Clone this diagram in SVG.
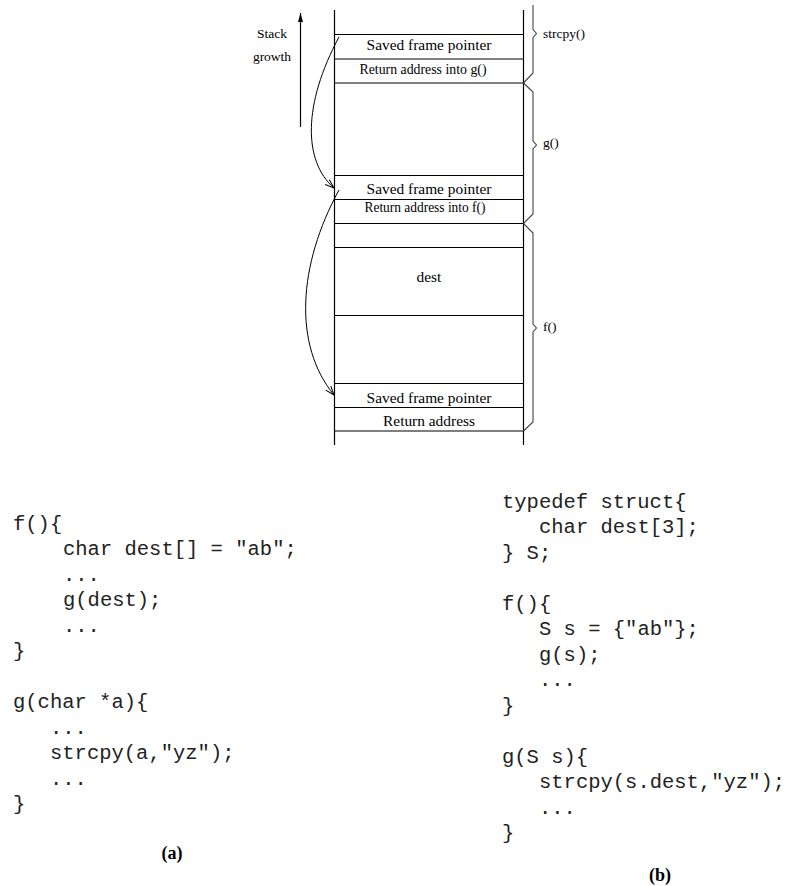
<svg xmlns="http://www.w3.org/2000/svg" width="792" height="886" viewBox="0 0 792 886">
<style>
.ln{stroke:#000;stroke-width:1.2;fill:none}
.br{stroke:#444;stroke-width:1.1;fill:none}
.t{font-family:"Liberation Serif","Times New Roman",serif;font-size:15.4px;fill:#000;text-anchor:middle}
.lb{font-family:"Liberation Serif","Times New Roman",serif;font-size:13.5px;fill:#000}
.c{font-family:"Liberation Mono","Courier New",monospace;font-size:20.5px;fill:#222;white-space:pre}
.cap{font-family:"Liberation Serif","Times New Roman",serif;font-size:18px;font-weight:bold;fill:#000;text-anchor:middle}
.cv{stroke:#000;stroke-width:1;fill:none}
</style>
<defs>
<marker id="ah" markerWidth="10" markerHeight="8" refX="9" refY="4" orient="auto" markerUnits="userSpaceOnUse">
<path d="M0,0.8 L9,4 L0,7.2" fill="none" stroke="#000" stroke-width="1"/>
</marker>
<marker id="sg" markerWidth="10" markerHeight="8" refX="9" refY="4" orient="auto" markerUnits="userSpaceOnUse">
<path d="M0,1.5 L9,4 L0,6.5 Z" fill="#000"/>
</marker>
</defs>

<g id="stack">
<line class="ln" x1="334.5" y1="10" x2="334.5" y2="445"/>
<line class="ln" x1="523.5" y1="10" x2="523.5" y2="445"/>
</g>

<g id="sfp1">
<line class="ln" x1="334.5" y1="34.5" x2="523.5" y2="34.5"/>
<text class="t" x="429" y="50">Saved frame pointer</text>
</g>
<g id="ra-g">
<line class="ln" x1="334.5" y1="59" x2="523.5" y2="59"/>
<text class="t" x="423" y="74" textLength="127" lengthAdjust="spacingAndGlyphs">Return address into g()</text>
</g>
<g id="g-frame">
<line class="ln" x1="334.5" y1="83" x2="523.5" y2="83"/>
</g>
<g id="sfp2">
<line class="ln" x1="334.5" y1="175.5" x2="523.5" y2="175.5"/>
<text class="t" x="429" y="194">Saved frame pointer</text>
</g>
<g id="ra-f">
<line class="ln" x1="334.5" y1="199.5" x2="523.5" y2="199.5"/>
<text class="t" x="425" y="212" textLength="121" lengthAdjust="spacingAndGlyphs">Return address into f()</text>
</g>
<g id="f-frame">
<line class="ln" x1="334.5" y1="223.5" x2="523.5" y2="223.5"/>
</g>
<g id="dest">
<line class="ln" x1="334.5" y1="247.5" x2="523.5" y2="247.5"/>
<text class="t" x="429" y="282">dest</text>
<line class="ln" x1="334.5" y1="315.5" x2="523.5" y2="315.5"/>
</g>
<g id="sfp3">
<line class="ln" x1="334.5" y1="383.5" x2="523.5" y2="383.5"/>
<text class="t" x="429" y="403">Saved frame pointer</text>
</g>
<g id="ra">
<line class="ln" x1="334.5" y1="407.5" x2="523.5" y2="407.5"/>
<text class="t" x="429" y="426">Return address</text>
<line class="ln" x1="334.5" y1="431" x2="523.5" y2="431"/>
</g>

<g id="growth">
<line class="ln" x1="300.5" y1="127" x2="300.5" y2="13" marker-end="url(#sg)"/>
<text class="lb" x="272" y="38" text-anchor="middle">Stack</text>
<text class="lb" x="272" y="61" text-anchor="middle">growth</text>
</g>

<g id="braces">
<path class="br" d="M533,5 L533,29.5 L536.5,33.5 L533,37.5 L533,73 L523.5,83"/>
<path class="br" d="M523.5,83 L533,92 L533,141 L536.5,145 L533,149 L533,214 L523.5,223.5"/>
<path class="br" d="M523.5,223.5 L533,233 L533,324 L536.5,328 L533,332 L533,422 L523.5,431"/>
<text class="lb" x="543" y="38">strcpy()</text>
<text class="lb" x="543" y="147">g()</text>
<text class="lb" x="543" y="331">f()</text>
</g>

<g id="connectors">
<path class="cv" d="M339,37 C303,104 303,161 334,188" marker-end="url(#ah)"/>
<path class="cv" d="M339,190 C298,265 293,345 334,395" marker-end="url(#ah)"/>
</g>

<g id="code-a">
<text class="c" x="13" y="530">f(){</text>
<text class="c" x="63" y="555">char dest[] = "ab";</text>
<text class="c" x="63" y="581">...</text>
<text class="c" x="63" y="606">g(dest);</text>
<text class="c" x="63" y="632">...</text>
<text class="c" x="13" y="657">}</text>
<text class="c" x="13" y="708">g(char *a){</text>
<text class="c" x="50" y="734">...</text>
<text class="c" x="50" y="759">strcpy(a,"yz");</text>
<text class="c" x="50" y="785">...</text>
<text class="c" x="13" y="810">}</text>
<text class="cap" x="172" y="859">(a)</text>
</g>

<g id="code-b">
<text class="c" x="502" y="508">typedef struct{</text>
<text class="c" x="539" y="533">char dest[3];</text>
<text class="c" x="502" y="559">} S;</text>
<text class="c" x="502" y="610">f(){</text>
<text class="c" x="539" y="635">S s = {"ab"};</text>
<text class="c" x="539" y="661">g(s);</text>
<text class="c" x="539" y="686">...</text>
<text class="c" x="502" y="712">}</text>
<text class="c" x="502" y="763">g(S s){</text>
<text class="c" x="539" y="788">strcpy(s.dest,"yz");</text>
<text class="c" x="539" y="814">...</text>
<text class="c" x="502" y="839">}</text>
<text class="cap" x="660" y="881">(b)</text>
</g>
</svg>
